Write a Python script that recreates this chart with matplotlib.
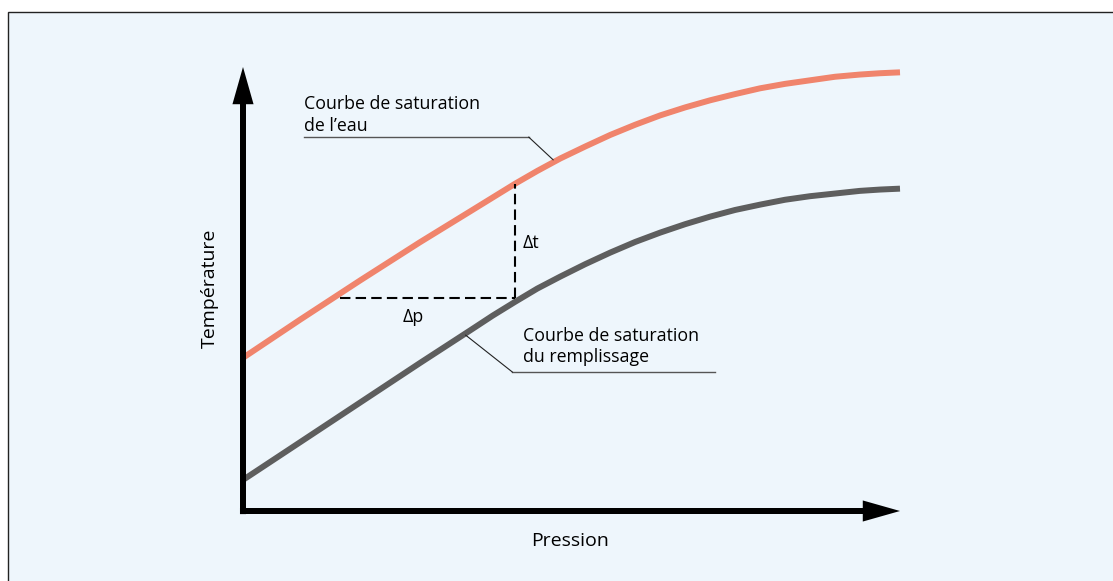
import matplotlib.pyplot as plt
from matplotlib.patches import Rectangle

# données (unités arbitraires 0-100)
pression = [0, 8.7, 17.8, 26.9, 34.6, 38.0, 41.4, 44.8, 48.3, 52.1, 55.9, 59.7,
            63.5, 67.3, 71.1, 74.9, 78.7, 82.5, 86.3, 90.1, 93.9, 97.0, 100]
temp_eau = [34.5, 43.1, 51.9, 60.5, 67.5, 70.6, 73.7, 76.6, 79.4, 82.1, 84.7, 87.0,
            89.1, 90.9, 92.5, 93.9, 95.2, 96.2, 97.0, 97.8, 98.3, 98.6, 98.8]
temp_remp = [7.0, 15.5, 24.4, 33.3, 40.7, 44.0, 47.1, 50.1, 52.8, 55.6, 58.2, 60.6,
             62.7, 64.6, 66.3, 67.8, 69.0, 70.1, 70.9, 71.5, 72.1, 72.4, 72.6]

# triangle delta p / delta t
dp = [14.8, 41.4]
dt = [48.0, 73.7]

plt.rcParams['font.family'] = ['Open Sans', 'DejaVu Sans']

fig = plt.figure(figsize=(11.13, 5.81), dpi=100)
fig.patch.set_facecolor('white')

# cadre de fond
fig.add_artist(Rectangle((8 / 1113, -0.1), 1.2, (581 - 12) / 581 + 0.1,
                         transform=fig.transFigure, facecolor='#eef6fc',
                         edgecolor='#222222', lw=1, zorder=0))

ax = fig.add_axes([243 / 1113, 70 / 581, 657 / 1113, 444 / 581])
ax.set_xlim(0, 100)
ax.set_ylim(0, 100)
ax.axis('off')

# axes avec flèches
fleche = dict(arrowstyle='simple,head_length=0.67,head_width=0.38,tail_width=0.108',
              color='black', lw=0, mutation_scale=40, shrinkA=0, shrinkB=0)
ax.annotate('', xy=(0, 100), xytext=(0, -0.7), arrowprops=fleche, annotation_clip=False)
ax.annotate('', xy=(100, 0), xytext=(-0.46, 0), arrowprops=fleche, annotation_clip=False)

# courbes
ax.plot(pression, temp_eau, color='#f0846c', lw=4.3, solid_capstyle='butt',
        solid_joinstyle='round', clip_on=False)
ax.plot(pression, temp_remp, color='#5e5e5e', lw=4.3, solid_capstyle='butt',
        solid_joinstyle='round', clip_on=False)

# lignes pointillées
ax.plot(dp, [dt[0], dt[0]], color='black', lw=1.5, dashes=(5, 2.5))
ax.plot([dp[1], dp[1]], dt, color='black', lw=1.5, dashes=(5, 2.5))
ax.text(25.9, 43.7, 'Δp', fontsize=12.8, ha='center', va='center')
ax.text(42.6, 60.4, 'Δt', fontsize=12.8, ha='left', va='center')

# étiquettes des courbes
ax.text(9.3, 91.7, 'Courbe de saturation', fontsize=12.8, ha='left', va='center')
ax.text(9.3, 86.7, 'de l’eau', fontsize=12.8, ha='left', va='center')
ax.plot([9.3, 43.5], [84.2, 84.2], color='#555555', lw=1)
ax.plot([43.5, 47.2], [84.2, 79.1], color='#222222', lw=0.8)

ax.text(42.6, 39.4, 'Courbe de saturation', fontsize=12.8, ha='left', va='center')
ax.text(42.6, 34.7, 'du remplissage', fontsize=12.8, ha='left', va='center')
ax.plot([41.0, 71.8], [31.3, 31.3], color='#555555', lw=1)
ax.plot([33.9, 41.0], [39.6, 31.3], color='#222222', lw=0.8)

# titres des axes
ax.text(49.8, -6.8, 'Pression', fontsize=14, ha='center', va='center')
ax.text(-5.0, 50.2, 'Température', fontsize=14, ha='center', va='center', rotation=90)

plt.savefig('out.png', dpi=100)
